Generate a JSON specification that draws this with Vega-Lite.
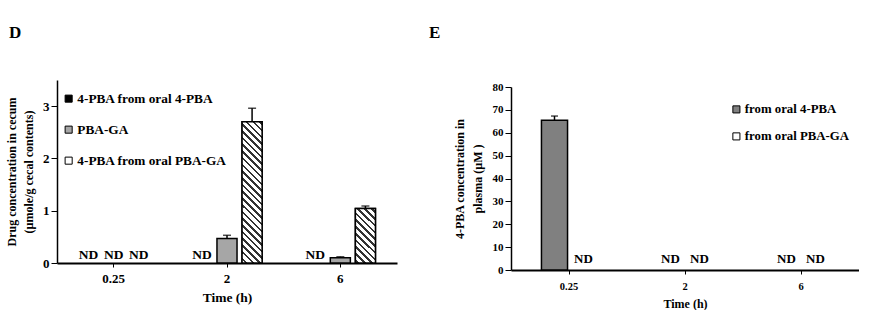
{
  "$schema": "https://vega.github.io/schema/vega-lite/v6.json",
  "padding": {"left": 5, "top": 24, "right": 0, "bottom": 0},
  "background": "white",
  "datasets": {
    "cecum": [
      {"time": "0.25", "series": "4-PBA from oral 4-PBA", "value": null, "err": null, "nd": true},
      {"time": "0.25", "series": "PBA-GA", "value": null, "err": null, "nd": true},
      {"time": "0.25", "series": "4-PBA from oral PBA-GA", "value": null, "err": null, "nd": true},
      {"time": "2", "series": "4-PBA from oral 4-PBA", "value": null, "err": null, "nd": true},
      {"time": "2", "series": "PBA-GA", "value": 0.47, "err": 0.53, "nd": false},
      {"time": "2", "series": "4-PBA from oral PBA-GA", "value": 2.7, "err": 2.96, "nd": false},
      {"time": "6", "series": "4-PBA from oral 4-PBA", "value": null, "err": null, "nd": true},
      {"time": "6", "series": "PBA-GA", "value": 0.1, "err": 0.12, "nd": false},
      {"time": "6", "series": "4-PBA from oral PBA-GA", "value": 1.04, "err": 1.09, "nd": false}
    ],
    "plasma": [
      {"time": "0.25", "series": "from oral 4-PBA", "value": 65.5, "err": 67.3, "nd": false},
      {"time": "0.25", "series": "from oral PBA-GA", "value": null, "err": null, "nd": true},
      {"time": "2", "series": "from oral 4-PBA", "value": null, "err": null, "nd": true},
      {"time": "2", "series": "from oral PBA-GA", "value": null, "err": null, "nd": true},
      {"time": "6", "series": "from oral 4-PBA", "value": null, "err": null, "nd": true},
      {"time": "6", "series": "from oral PBA-GA", "value": null, "err": null, "nd": true}
    ]
  },
  "spacing": 32,
  "resolve": {"scale": {"color": "independent", "x": "independent", "y": "independent", "xOffset": "independent"}, "legend": {"color": "independent"}},
  "hconcat": [
    {
      "width": 340,
      "height": 183,
      "title": {"text": "D", "anchor": "start", "frame": "group", "dx": -48, "offset": 38, "fontSize": 17, "fontWeight": "bold", "color": "black"},
      "data": {"name": "cecum"},
      "encoding": {
        "x": {"field": "time", "type": "nominal", "sort": ["0.25", "2", "6"],
          "scale": {"paddingInner": 0.336, "paddingOuter": 0.168},
          "axis": {"title": "Time (h)", "labelAngle": 0, "labelFontSize": 13, "titleFontSize": 13.5, "domainWidth": 2, "tickSize": 4, "labelPadding": 5, "titlePadding": 5}},
        "xOffset": {"field": "series", "type": "nominal",
          "scale": {"domain": ["4-PBA from oral 4-PBA", "PBA-GA", "4-PBA from oral PBA-GA"], "paddingInner": 0.2, "paddingOuter": 0.1}}
      },
      "layer": [
        {
          "mark": {"type": "bar", "stroke": "black", "strokeWidth": 1.5},
          "encoding": {
            "y": {"field": "value", "type": "quantitative", "scale": {"domain": [0, 3.5], "nice": false},
              "axis": {"values": [0, 1, 2, 3], "format": "d", "title": ["Drug concentration  in cecum", "(µmole/g cecal contents)"], "titleFontSize": 12, "titleLineHeight": 17, "labelFontSize": 13, "domainWidth": 1.5, "tickSize": 6, "labelPadding": 2, "titlePadding": 7, "labelOverlap": false}},
            "color": {"field": "series", "type": "nominal",
              "scale": {"domain": ["4-PBA from oral 4-PBA", "PBA-GA", "4-PBA from oral PBA-GA"], "range": ["#000000", "#a6a6a6", "#ffffff"]},
              "legend": {"orient": "none", "legendX": 5, "legendY": 12, "title": null, "symbolType": "square", "symbolSize": 50, "symbolStrokeColor": "black", "symbolStrokeWidth": 1, "labelFontSize": 13.3, "labelFontWeight": "bold", "labelColor": "black", "labelLimit": 0, "rowPadding": 17, "labelOffset": 2,
                "encode": {"symbols": {"update": {"fill": [
                  {"test": "datum.value === '4-PBA from oral 4-PBA'", "value": "#000000"},
                  {"test": "datum.value === 'PBA-GA'", "value": "#a6a6a6"},
                  {"value": {"gradient": "linear", "x1": 0, "y1": 1, "x2": 1, "y2": 0, "stops": [
                    {"offset": 0.2, "color": "#ffffff"}, {"offset": 0.2, "color": "#333333"}, {"offset": 0.38, "color": "#333333"}, {"offset": 0.38, "color": "#ffffff"},
                    {"offset": 0.62, "color": "#ffffff"}, {"offset": 0.62, "color": "#333333"}, {"offset": 0.8, "color": "#333333"}, {"offset": 0.8, "color": "#ffffff"}]}}
                ], "stroke": {"value": "black"}, "opacity": {"value": 1}}}}}
            }
          }
        },
        {
          "transform": [{"filter": "datum.series === '4-PBA from oral PBA-GA' && datum.time === '2'"}],
          "mark": {"type": "bar", "stroke": "black", "strokeWidth": 1.5,
            "fill": {"gradient": "linear", "x1": 0, "y1": 1, "x2": 0.1585, "y2": -0.1192, "stops": [
              {"offset": 0.02, "color": "#ffffff"}, {"offset": 0.02, "color": "#333333"}, {"offset": 0.036, "color": "#333333"}, {"offset": 0.036, "color": "#ffffff"},
              {"offset": 0.0617, "color": "#ffffff"}, {"offset": 0.0617, "color": "#333333"}, {"offset": 0.0777, "color": "#333333"}, {"offset": 0.0777, "color": "#ffffff"},
              {"offset": 0.1033, "color": "#ffffff"}, {"offset": 0.1033, "color": "#333333"}, {"offset": 0.1193, "color": "#333333"}, {"offset": 0.1193, "color": "#ffffff"},
              {"offset": 0.145, "color": "#ffffff"}, {"offset": 0.145, "color": "#333333"}, {"offset": 0.161, "color": "#333333"}, {"offset": 0.161, "color": "#ffffff"},
              {"offset": 0.1867, "color": "#ffffff"}, {"offset": 0.1867, "color": "#333333"}, {"offset": 0.2027, "color": "#333333"}, {"offset": 0.2027, "color": "#ffffff"},
              {"offset": 0.2283, "color": "#ffffff"}, {"offset": 0.2283, "color": "#333333"}, {"offset": 0.2443, "color": "#333333"}, {"offset": 0.2443, "color": "#ffffff"},
              {"offset": 0.27, "color": "#ffffff"}, {"offset": 0.27, "color": "#333333"}, {"offset": 0.286, "color": "#333333"}, {"offset": 0.286, "color": "#ffffff"},
              {"offset": 0.3117, "color": "#ffffff"}, {"offset": 0.3117, "color": "#333333"}, {"offset": 0.3277, "color": "#333333"}, {"offset": 0.3277, "color": "#ffffff"},
              {"offset": 0.3533, "color": "#ffffff"}, {"offset": 0.3533, "color": "#333333"}, {"offset": 0.3693, "color": "#333333"}, {"offset": 0.3693, "color": "#ffffff"},
              {"offset": 0.395, "color": "#ffffff"}, {"offset": 0.395, "color": "#333333"}, {"offset": 0.411, "color": "#333333"}, {"offset": 0.411, "color": "#ffffff"},
              {"offset": 0.4367, "color": "#ffffff"}, {"offset": 0.4367, "color": "#333333"}, {"offset": 0.4527, "color": "#333333"}, {"offset": 0.4527, "color": "#ffffff"},
              {"offset": 0.4783, "color": "#ffffff"}, {"offset": 0.4783, "color": "#333333"}, {"offset": 0.4943, "color": "#333333"}, {"offset": 0.4943, "color": "#ffffff"},
              {"offset": 0.52, "color": "#ffffff"}, {"offset": 0.52, "color": "#333333"}, {"offset": 0.536, "color": "#333333"}, {"offset": 0.536, "color": "#ffffff"},
              {"offset": 0.5617, "color": "#ffffff"}, {"offset": 0.5617, "color": "#333333"}, {"offset": 0.5777, "color": "#333333"}, {"offset": 0.5777, "color": "#ffffff"},
              {"offset": 0.6033, "color": "#ffffff"}, {"offset": 0.6033, "color": "#333333"}, {"offset": 0.6193, "color": "#333333"}, {"offset": 0.6193, "color": "#ffffff"},
              {"offset": 0.645, "color": "#ffffff"}, {"offset": 0.645, "color": "#333333"}, {"offset": 0.661, "color": "#333333"}, {"offset": 0.661, "color": "#ffffff"},
              {"offset": 0.6867, "color": "#ffffff"}, {"offset": 0.6867, "color": "#333333"}, {"offset": 0.7027, "color": "#333333"}, {"offset": 0.7027, "color": "#ffffff"},
              {"offset": 0.7283, "color": "#ffffff"}, {"offset": 0.7283, "color": "#333333"}, {"offset": 0.7443, "color": "#333333"}, {"offset": 0.7443, "color": "#ffffff"},
              {"offset": 0.77, "color": "#ffffff"}, {"offset": 0.77, "color": "#333333"}, {"offset": 0.786, "color": "#333333"}, {"offset": 0.786, "color": "#ffffff"},
              {"offset": 0.8117, "color": "#ffffff"}, {"offset": 0.8117, "color": "#333333"}, {"offset": 0.8277, "color": "#333333"}, {"offset": 0.8277, "color": "#ffffff"},
              {"offset": 0.8533, "color": "#ffffff"}, {"offset": 0.8533, "color": "#333333"}, {"offset": 0.8693, "color": "#333333"}, {"offset": 0.8693, "color": "#ffffff"},
              {"offset": 0.895, "color": "#ffffff"}, {"offset": 0.895, "color": "#333333"}, {"offset": 0.911, "color": "#333333"}, {"offset": 0.911, "color": "#ffffff"},
              {"offset": 0.9367, "color": "#ffffff"}, {"offset": 0.9367, "color": "#333333"}, {"offset": 0.9527, "color": "#333333"}, {"offset": 0.9527, "color": "#ffffff"},
              {"offset": 0.9783, "color": "#ffffff"}, {"offset": 0.9783, "color": "#333333"}, {"offset": 0.9943, "color": "#333333"}, {"offset": 0.9943, "color": "#ffffff"}
            ]}},
          "encoding": {"y": {"field": "value", "type": "quantitative"}}
        },
        {
          "transform": [{"filter": "datum.series === '4-PBA from oral PBA-GA' && datum.time === '6'"}],
          "mark": {"type": "bar", "stroke": "black", "strokeWidth": 1.5,
            "fill": {"gradient": "linear", "x1": 0, "y1": 1, "x2": 0.443, "y2": -0.205, "stops": [
              {"offset": 0.02, "color": "#ffffff"}, {"offset": 0.02, "color": "#333333"}, {"offset": 0.056, "color": "#333333"}, {"offset": 0.056, "color": "#ffffff"},
              {"offset": 0.111, "color": "#ffffff"}, {"offset": 0.111, "color": "#333333"}, {"offset": 0.147, "color": "#333333"}, {"offset": 0.147, "color": "#ffffff"},
              {"offset": 0.202, "color": "#ffffff"}, {"offset": 0.202, "color": "#333333"}, {"offset": 0.238, "color": "#333333"}, {"offset": 0.238, "color": "#ffffff"},
              {"offset": 0.293, "color": "#ffffff"}, {"offset": 0.293, "color": "#333333"}, {"offset": 0.329, "color": "#333333"}, {"offset": 0.329, "color": "#ffffff"},
              {"offset": 0.384, "color": "#ffffff"}, {"offset": 0.384, "color": "#333333"}, {"offset": 0.42, "color": "#333333"}, {"offset": 0.42, "color": "#ffffff"},
              {"offset": 0.475, "color": "#ffffff"}, {"offset": 0.475, "color": "#333333"}, {"offset": 0.511, "color": "#333333"}, {"offset": 0.511, "color": "#ffffff"},
              {"offset": 0.565, "color": "#ffffff"}, {"offset": 0.565, "color": "#333333"}, {"offset": 0.601, "color": "#333333"}, {"offset": 0.601, "color": "#ffffff"},
              {"offset": 0.656, "color": "#ffffff"}, {"offset": 0.656, "color": "#333333"}, {"offset": 0.692, "color": "#333333"}, {"offset": 0.692, "color": "#ffffff"},
              {"offset": 0.747, "color": "#ffffff"}, {"offset": 0.747, "color": "#333333"}, {"offset": 0.783, "color": "#333333"}, {"offset": 0.783, "color": "#ffffff"},
              {"offset": 0.838, "color": "#ffffff"}, {"offset": 0.838, "color": "#333333"}, {"offset": 0.874, "color": "#333333"}, {"offset": 0.874, "color": "#ffffff"},
              {"offset": 0.929, "color": "#ffffff"}, {"offset": 0.929, "color": "#333333"}, {"offset": 0.965, "color": "#333333"}, {"offset": 0.965, "color": "#ffffff"}
            ]}},
          "encoding": {"y": {"field": "value", "type": "quantitative"}}
        },
        {
          "mark": {"type": "rule", "color": "black", "strokeWidth": 1.5},
          "encoding": {"y": {"field": "value", "type": "quantitative"}, "y2": {"field": "err"}}
        },
        {
          "mark": {"type": "tick", "color": "black", "size": 8, "thickness": 1.5},
          "encoding": {"y": {"field": "err", "type": "quantitative"}}
        },
        {
          "transform": [{"filter": "datum.nd"}],
          "mark": {"type": "text", "text": "ND", "fontSize": 13.5, "fontWeight": "bold", "baseline": "bottom", "dy": -1, "color": "black"},
          "encoding": {"y": {"datum": 0, "type": "quantitative"}}
        }
      ]
    },
    {
      "width": 348,
      "height": 190,
      "title": {"text": "E", "anchor": "start", "frame": "group", "dx": -82, "offset": 38, "fontSize": 17, "fontWeight": "bold", "color": "black"},
      "data": {"name": "plasma"},
      "encoding": {
        "x": {"field": "time", "type": "nominal", "sort": ["0.25", "2", "6"],
          "scale": {"paddingInner": 0.5, "paddingOuter": 0.25},
          "axis": {"title": "Time (h)", "labelAngle": 0, "labelFontSize": 10.5, "titleFontSize": 12, "domainWidth": 2, "tickSize": 4, "labelPadding": 7, "titlePadding": 7}},
        "xOffset": {"field": "series", "type": "nominal",
          "scale": {"domain": ["from oral 4-PBA", "from oral PBA-GA"], "paddingInner": 0.1, "paddingOuter": 0.05}}
      },
      "layer": [
        {
          "mark": {"type": "bar", "stroke": "black", "strokeWidth": 1.5},
          "encoding": {
            "y": {"field": "value", "type": "quantitative", "scale": {"domain": [0, 80], "nice": false, "range": [190, 7]},
              "axis": {"values": [0, 10, 20, 30, 40, 50, 60, 70, 80], "tickCount": 9, "labelOverlap": false, "labelSeparation": 0, "title": ["4-PBA  concentration  in", "plasma  (µM )"], "titleFontSize": 12, "titleLineHeight": 18, "labelFontSize": 11, "domainWidth": 1.5, "tickSize": 6, "labelPadding": 2, "titlePadding": 8}},
            "color": {"field": "series", "type": "nominal",
              "scale": {"domain": ["from oral 4-PBA", "from oral PBA-GA"], "range": ["#808080", "#ffffff"]},
              "legend": {"orient": "none", "legendX": 219, "legendY": 23, "title": null, "symbolType": "square", "symbolSize": 50, "symbolStrokeColor": "black", "symbolStrokeWidth": 1, "labelFontSize": 12.8, "labelFontWeight": "bold", "labelColor": "black", "labelLimit": 0, "rowPadding": 13, "labelOffset": 2,
                "encode": {"symbols": {"update": {"stroke": {"value": "black"}, "opacity": {"value": 1}}}}}
            }
          }
        },
        {
          "mark": {"type": "rule", "color": "black", "strokeWidth": 1.5},
          "encoding": {"y": {"field": "value", "type": "quantitative"}, "y2": {"field": "err"}}
        },
        {
          "mark": {"type": "tick", "color": "black", "size": 7, "thickness": 1.5},
          "encoding": {"y": {"field": "err", "type": "quantitative"}}
        },
        {
          "transform": [{"filter": "datum.nd"}],
          "mark": {"type": "text", "text": "ND", "fontSize": 13, "fontWeight": "bold", "baseline": "bottom", "dy": -4, "color": "black"},
          "encoding": {"y": {"datum": 0, "type": "quantitative"}}
        }
      ]
    }
  ],
  "config": {
    "font": "Liberation Serif",
    "view": {"stroke": null},
    "axis": {"domainColor": "black", "tickColor": "black", "labelColor": "black", "titleColor": "black", "labelFontWeight": "bold", "titleFontWeight": "bold", "grid": false, "labelFont": "Liberation Serif", "titleFont": "Liberation Serif"},
    "legend": {"labelFont": "Liberation Serif"},
    "title": {"font": "Liberation Serif"}
  }
}
